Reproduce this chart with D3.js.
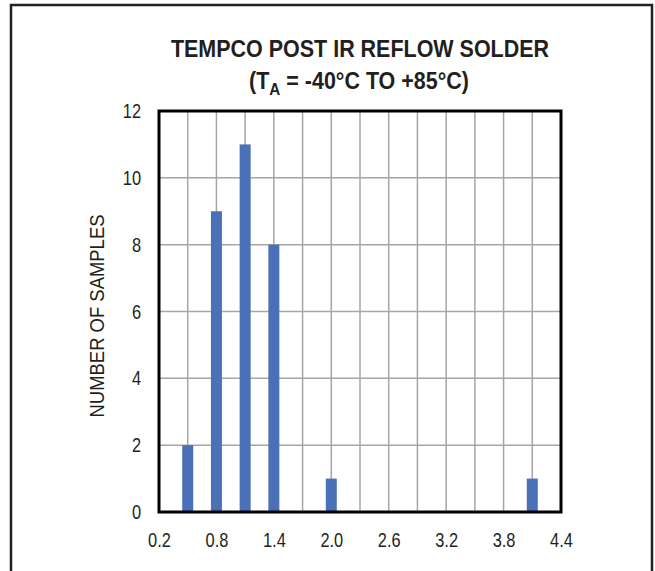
<!DOCTYPE html>
<html>
<head>
<meta charset="utf-8">
<script src="https://cdn.jsdelivr.net/npm/d3@7"></script>
<style>
  html, body { margin: 0; padding: 0; background: #fff; }
  svg { display: block; }
  .narrow { font-family: "Liberation Sans", Arial, sans-serif; }
</style>
</head>
<body>
<svg id="chart" width="655" height="571"></svg>
<script>
// Tempco distribution after IR reflow soldering
const binCenters = [0.5, 0.8, 1.1, 1.4, 2.0, 4.1];
const sampleCounts = [2, 9, 11, 8, 1, 1];
const xTickValues = [0.2, 0.8, 1.4, 2.0, 2.6, 3.2, 3.8, 4.4];
const xGridValues = [0.5, 0.8, 1.1, 1.4, 1.7, 2.0, 2.3, 2.6, 2.9, 3.2, 3.5, 3.8, 4.1];
const yTickValues = [0, 2, 4, 6, 8, 10, 12];
const titleLine1 = "TEMPCO POST IR REFLOW SOLDER";
const yAxisTitle = "NUMBER OF SAMPLES";

const svg = d3.select("#chart");
const plot = { left: 159, right: 561, top: 111, bottom: 512 };
const ink = "#231f20";

const x = d3.scaleLinear().domain([0.2, 4.4]).range([plot.left, plot.right]);
const y = d3.scaleLinear().domain([0, 12]).range([plot.bottom, plot.top]);

// outer frame (bottom edge runs off the page)
svg.append("path")
  .attr("d", "M11,580 L11,5 L652,5 L652,580")
  .attr("fill", "none").attr("stroke", "#222").attr("stroke-width", 2.5);

// title, horizontally condensed
const tSx = 0.895;
svg.append("text").attr("class", "narrow")
  .attr("transform", `translate(360,57) scale(${tSx},1)`)
  .attr("text-anchor", "middle").attr("font-weight", "bold")
  .attr("font-size", 24).attr("fill", ink)
  .text(titleLine1);
const t2 = svg.append("text").attr("class", "narrow")
  .attr("transform", `translate(359,89) scale(${tSx},1)`)
  .attr("text-anchor", "middle").attr("font-weight", "bold")
  .attr("font-size", 24).attr("fill", ink);
t2.append("tspan").text("(T");
t2.append("tspan").attr("font-size", 17).attr("dy", 6).text("A");
t2.append("tspan").attr("dy", -6).text(" = -40°C TO +85°C)");

// gridlines
const grid = svg.append("g").attr("stroke", "#a6a6a6").attr("stroke-width", 1.5);
grid.selectAll("line.v").data(xGridValues).join("line").attr("class", "v")
  .attr("x1", d => x(d)).attr("x2", d => x(d))
  .attr("y1", plot.top).attr("y2", plot.bottom);
grid.selectAll("line.h").data(yTickValues.slice(1, -1)).join("line").attr("class", "h")
  .attr("x1", plot.left).attr("x2", plot.right)
  .attr("y1", d => y(d)).attr("y2", d => y(d));

// bars
const barW = 11;
svg.append("g").selectAll("rect").data(binCenters).join("rect")
  .attr("x", (d) => x(d) - barW / 2)
  .attr("width", barW)
  .attr("y", (d, i) => y(sampleCounts[i]))
  .attr("height", (d, i) => y(0) - y(sampleCounts[i]))
  .attr("fill", "#4a70b7");

// plot border
svg.append("rect")
  .attr("x", plot.left).attr("y", plot.top)
  .attr("width", plot.right - plot.left).attr("height", plot.bottom - plot.top)
  .attr("fill", "none").attr("stroke", "#000").attr("stroke-width", 3);

// axes with condensed tick labels
const lSx = 0.8;
const xAxis = svg.append("g").attr("transform", `translate(0,${plot.bottom})`)
  .call(d3.axisBottom(x).tickValues(xTickValues).tickFormat(d3.format(".1f")).tickSize(0).tickPadding(21));
const yAxis = svg.append("g").attr("transform", `translate(${plot.left},0)`)
  .call(d3.axisLeft(y).tickValues(yTickValues).tickFormat(d3.format("d")).tickSize(0).tickPadding(18));
[xAxis, yAxis].forEach(g => {
  g.select(".domain").remove();
  g.attr("font-family", null).attr("font-size", null);
  g.selectAll("text").attr("class", "narrow").attr("font-size", 20.5).attr("fill", ink)
    .attr("transform", `scale(${lSx},1)`);
});
xAxis.selectAll("text").attr("y", 20).attr("dy", "0.71em");
yAxis.selectAll("text").attr("x", -18 / lSx);

// y axis title
svg.append("text").attr("class", "narrow")
  .attr("transform", "translate(104,316) rotate(-90) scale(0.9,1)")
  .attr("text-anchor", "middle").attr("font-size", 20.5).attr("fill", ink)
  .text(yAxisTitle);
</script>
</body>
</html>
